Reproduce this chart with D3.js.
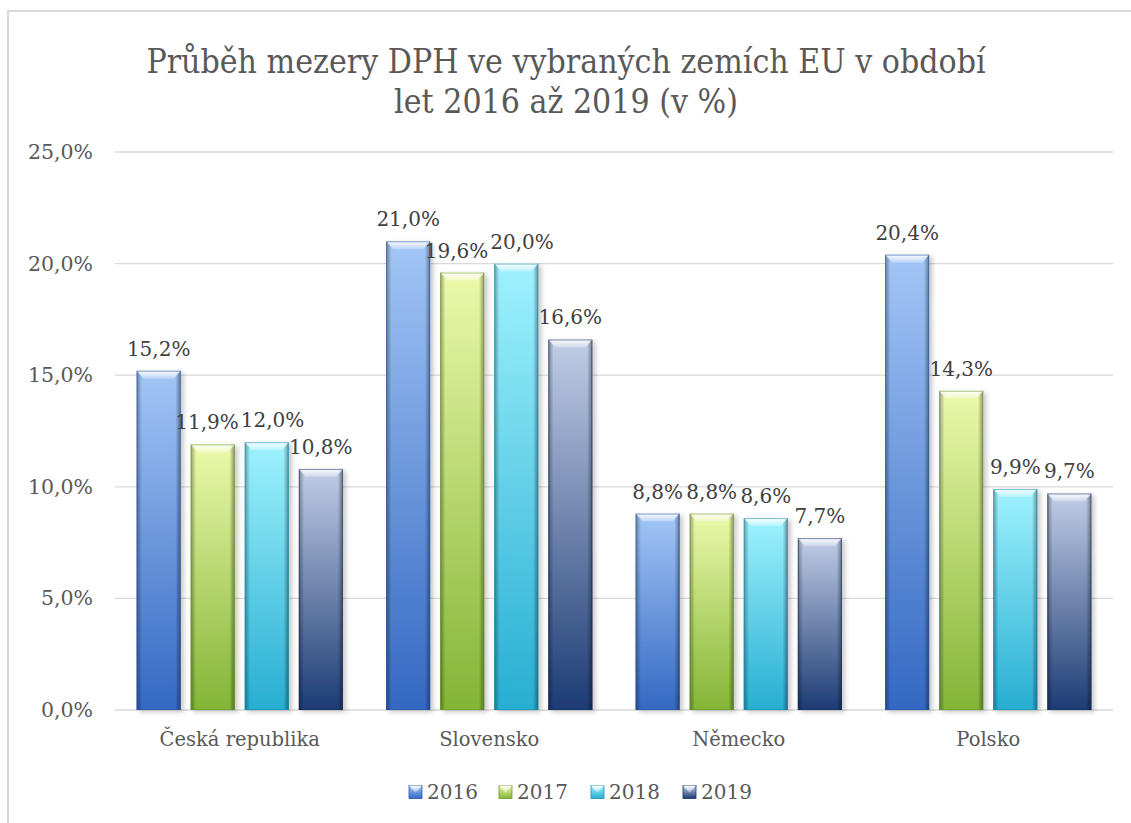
<!DOCTYPE html>
<html>
<head>
<meta charset="utf-8">
<script src="https://cdn.jsdelivr.net/npm/d3@7"></script>
<style>
  body { margin: 0; background: #fff; }
  svg text { font-family: "DejaVu Serif", serif; }
</style>
</head>
<body>
<svg id="chart"></svg>
<script>
const countries = ["Česká republika", "Slovensko", "Německo", "Polsko"];
const years = ["2016", "2017", "2018", "2019"];
const values2016 = [15.2, 21.0, 8.8, 20.4];
const values2017 = [11.9, 19.6, 8.8, 14.3];
const values2018 = [12.0, 20.0, 8.6, 9.9];
const values2019 = [10.8, 16.6, 7.7, 9.7];
const yTicks = [0, 5, 10, 15, 20, 25];
const titleLines = ["Průběh mezery DPH ve vybraných zemích EU v období", "let 2016 až 2019 (v %)"];

const series = [values2016, values2017, values2018, values2019];
const colors = {
    "2016": { top: "#a2c6f6", bottom: "#3468c2", edge: "#2c5aa6" },
    "2017": { top: "#ecf9aa", bottom: "#82b536", edge: "#6a9a24" },
    "2018": { top: "#9ff2fe", bottom: "#27aed2", edge: "#1e8eae" },
    "2019": { top: "#c0cde6", bottom: "#1d3b74", edge: "#1a3262" }
};

const W = 1131, H = 823;
const margin = { top: 152, right: 18, bottom: 113, left: 115 };
const width = W - margin.left - margin.right;
const height = H - margin.top - margin.bottom;

const svgRoot = d3.select("#chart").attr("width", W).attr("height", H);

// chart frame
svgRoot.append("rect")
    .attr("x", 8).attr("y", 11)
    .attr("width", W + 20).attr("height", H + 20)
    .attr("fill", "none")
    .attr("stroke", "#d9d9d9")
    .attr("stroke-width", 2);

const defs = svgRoot.append("defs");
years.forEach(yr => {
    const c = colors[yr];
    const g = defs.append("linearGradient").attr("id", "v" + yr)
        .attr("x1", 0).attr("y1", 0).attr("x2", 0).attr("y2", 1);
    g.append("stop").attr("offset", "0%").attr("stop-color", c.top);
    g.append("stop").attr("offset", "100%").attr("stop-color", c.bottom);
});
const side = defs.append("linearGradient").attr("id", "side")
    .attr("x1", 0).attr("y1", 0).attr("x2", 1).attr("y2", 0);
side.append("stop").attr("offset", "0%").attr("stop-color", "#000").attr("stop-opacity", 0.35);
side.append("stop").attr("offset", "12%").attr("stop-color", "#000").attr("stop-opacity", 0);
side.append("stop").attr("offset", "88%").attr("stop-color", "#000").attr("stop-opacity", 0);
side.append("stop").attr("offset", "100%").attr("stop-color", "#000").attr("stop-opacity", 0.4);
const shine = defs.append("linearGradient").attr("id", "shine")
    .attr("x1", 0).attr("y1", 0).attr("x2", 0).attr("y2", 1);
shine.append("stop").attr("offset", "0%").attr("stop-color", "#fff").attr("stop-opacity", 0.95);
shine.append("stop").attr("offset", "100%").attr("stop-color", "#fff").attr("stop-opacity", 0.25);
const shadow = defs.append("filter").attr("id", "shadow")
    .attr("x", "-20%").attr("y", "-5%").attr("width", "150%").attr("height", "115%");
shadow.append("feDropShadow").attr("dx", 3).attr("dy", 2).attr("stdDeviation", 2.5)
    .attr("flood-color", "#000").attr("flood-opacity", 0.22);

// title
svgRoot.append("text")
    .attr("x", 566).attr("y", 73)
    .attr("text-anchor", "middle")
    .attr("fill", "#595959")
    .style("font-size", "33.5px")
    .style("font-stretch", "condensed")
    .selectAll("tspan")
    .data(titleLines)
    .enter()
    .append("tspan")
    .attr("x", 566)
    .attr("dy", (d, i) => i === 0 ? 0 : 40)
    .text(d => d);

const svg = svgRoot.append("g")
    .attr("transform", `translate(${margin.left}, ${margin.top})`);

const x0 = d3.scaleBand().domain(countries).range([0, width]).padding(0);
const x1 = d3.scaleBand().domain(years).range([0, x0.bandwidth()])
    .paddingInner(0.185).paddingOuter(0.4);
const y = d3.scaleLinear().domain([0, 25]).range([height, 0]);

// gridlines
svg.append("g")
    .selectAll("line")
    .data(yTicks)
    .enter()
    .append("line")
    .attr("x1", 0).attr("x2", width)
    .attr("y1", d => y(d)).attr("y2", d => y(d))
    .attr("stroke", "#d9d9d9")
    .attr("stroke-width", 1.3);

const yAxis = d3.axisLeft(y)
    .tickValues(yTicks)
    .tickSize(0)
    .tickPadding(22)
    .tickFormat(d => d3.format(".1f")(d).replace(".", ",") + "%");

svg.append("g")
    .call(yAxis)
    .call(g => g.select(".domain").remove())
    .selectAll("text")
    .attr("fill", "#595959")
    .style("font-size", "20.5px");

const xAxis = d3.axisBottom(x0).tickSize(0).tickPadding(22);
svg.append("g")
    .attr("transform", `translate(0, ${height})`)
    .call(xAxis)
    .call(g => g.select(".domain").remove())
    .selectAll("text")
    .attr("fill", "#595959")
    .style("font-size", "19.5px");

// bars
const rows = [];
countries.forEach((c, ci) => {
    years.forEach((yr, yi) => rows.push({ country: c, year: yr, value: series[yi][ci] }));
});

const bw = x1.bandwidth();
const bars = svg.selectAll(".bar")
    .data(rows)
    .enter()
    .append("g")
    .attr("class", "bar");

bars.append("rect")
    .attr("x", d => x0(d.country) + x1(d.year))
    .attr("y", d => y(d.value))
    .attr("width", bw)
    .attr("height", d => y(0) - y(d.value))
    .attr("fill", d => `url(#v${d.year})`)
    .attr("filter", "url(#shadow)");
bars.append("rect")
    .attr("x", d => x0(d.country) + x1(d.year))
    .attr("y", d => y(d.value))
    .attr("width", bw)
    .attr("height", d => y(0) - y(d.value))
    .attr("fill", "url(#side)");
bars.append("path")
    .attr("d", d => {
        const l = x0(d.country) + x1(d.year), t = y(d.value);
        return `M${l},${t} L${l + bw},${t} L${l + bw - 7},${t + 8} L${l + 7},${t + 8} Z`;
    })
    .attr("fill", "url(#shine)");
bars.append("rect")
    .attr("x", d => x0(d.country) + x1(d.year) + 0.5)
    .attr("y", d => y(d.value) + 0.5)
    .attr("width", bw - 1)
    .attr("height", d => y(0) - y(d.value) - 1)
    .attr("fill", "none")
    .attr("stroke", d => colors[d.year].edge)
    .attr("stroke-opacity", 0.55);

// data labels
const labels = svg.append("g")
    .selectAll("text")
    .data(rows)
    .enter()
    .append("text")
    .attr("text-anchor", "middle")
    .attr("fill", "#404040")
    .style("font-size", "20px")
    .attr("y", d => y(d.value) - 15)
    .text(d => d3.format(".1f")(d.value).replace(".", ",") + "%");

// nudge neighbouring labels apart when they collide
labels.each(function (d) {
    d.lx = x0(d.country) + x1(d.year) + bw / 2;
    d.ly = y(d.value) - 15;
    d.lw = this.getComputedTextLength();
});
for (let iter = 0; iter < 6; iter++) {
    countries.forEach(c => {
        const grp = rows.filter(r => r.country === c);
        for (let i = 0; i < grp.length - 1; i++) {
            const a = grp[i], b = grp[i + 1];
            if (Math.abs(a.ly - b.ly) > 20) continue;
            const overlap = (a.lx + a.lw / 2 + 2) - (b.lx - b.lw / 2);
            if (overlap > 0) {
                a.lx -= overlap / 2;
                b.lx += overlap / 2;
            }
        }
    });
}
labels.attr("x", d => d.lx);

// legend
const legendX = [409, 499, 591, 683];
const legend = svgRoot.append("g");
const items = legend.selectAll("g")
    .data(years)
    .enter()
    .append("g")
    .attr("transform", (d, i) => `translate(${legendX[i]}, 792)`);
items.append("rect")
    .attr("x", 0).attr("y", -6.5)
    .attr("width", 13).attr("height", 13)
    .attr("fill", d => `url(#v${d})`)
    .attr("stroke", d => colors[d].edge)
    .attr("stroke-width", 0.8);
items.append("path")
    .attr("d", "M0,-6.5 L13,-6.5 L6.5,1 Z")
    .attr("fill", "url(#shine)");
items.append("text")
    .attr("x", 18)
    .attr("dy", "0.35em")
    .attr("fill", "#595959")
    .style("font-size", "20px")
    .text(d => d);
</script>
</body>
</html>
